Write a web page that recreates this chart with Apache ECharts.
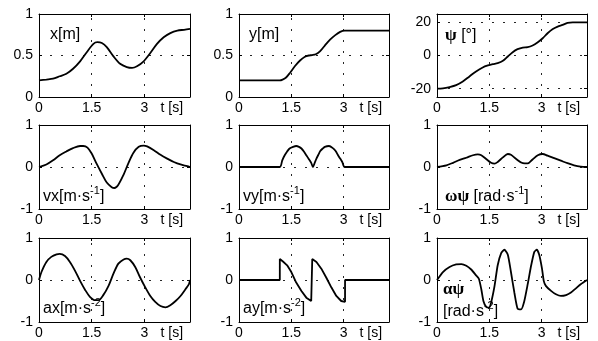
<!DOCTYPE html>
<html>
<head>
<meta charset="utf-8">
<script src="https://cdn.jsdelivr.net/npm/echarts@6.0.0/dist/echarts.min.js"></script>
<style>
  html, body { margin: 0; padding: 0; background: #fff; }
  #chart { width: 598px; height: 341px; }
</style>
</head>
<body>
<div id="chart"></div>
<script>
// Time axis
const T_MAX = 4.3;
const tTicks = [0, 1.5, 3];
const tTitlePos = 3.78;
const tTitle = 't [s]';

// Value-axis tick sets
const posTicks = [0, 0.5, 1];
const psiTicks = [-20, 0, 20];
const unitTicks = [-1, 0, 1];

// x [m]
const tX = [0, 0.21, 0.4, 0.59, 0.78, 0.97, 1.17, 1.36, 1.55, 1.66, 1.79, 1.93, 2.12, 2.31, 2.5, 2.65, 2.79, 2.98, 3.17, 3.36, 3.55, 3.74, 3.94, 4.13, 4.3];
const xPos = [0.2, 0.21, 0.22, 0.25, 0.28, 0.34, 0.43, 0.54, 0.64, 0.66, 0.65, 0.6, 0.49, 0.4, 0.36, 0.35, 0.37, 0.43, 0.53, 0.64, 0.72, 0.77, 0.8, 0.81, 0.82];

// y [m]
const tY = [0, 0.6, 1.0, 1.17, 1.25, 1.35, 1.46, 1.6, 1.75, 1.89, 2.0, 2.1, 2.2, 2.32, 2.46, 2.61, 2.76, 2.9, 3.03, 3.5, 4.3];
const yPos = [0.2, 0.2, 0.2, 0.2, 0.21, 0.235, 0.29, 0.37, 0.44, 0.485, 0.5, 0.505, 0.515, 0.55, 0.62, 0.69, 0.745, 0.785, 0.8, 0.8, 0.8];

// psi [deg]
const tPsi = [0, 0.17, 0.36, 0.55, 0.74, 0.93, 1.12, 1.31, 1.46, 1.6, 1.74, 1.89, 2.03, 2.17, 2.31, 2.46, 2.6, 2.74, 2.89, 3.03, 3.17, 3.31, 3.46, 3.6, 3.74, 3.89, 4.08, 4.3];
const psi = [-20, -19.8, -19, -17.8, -15.6, -12.6, -9.6, -7.2, -6, -5.2, -4.6, -3.2, -0.6, 2, 3.8, 4.8, 5, 6, 8, 10.4, 13.4, 15.8, 17.4, 18.4, 19.6, 20, 20, 20];

// vx [m/s]
const tVx = [0, 0.21, 0.4, 0.59, 0.78, 0.97, 1.17, 1.26, 1.38, 1.5, 1.64, 1.79, 1.93, 2.07, 2.15, 2.26, 2.41, 2.55, 2.69, 2.84, 2.98, 3.08, 3.27, 3.46, 3.65, 3.84, 4.03, 4.22, 4.3];
const vx = [0, 0.06, 0.16, 0.28, 0.37, 0.45, 0.5, 0.5, 0.46, 0.32, 0.08, -0.16, -0.37, -0.48, -0.5, -0.42, -0.18, 0.1, 0.34, 0.48, 0.51, 0.49, 0.4, 0.29, 0.2, 0.12, 0.06, 0.02, 0];

// vy [m/s]
const tVy = [0, 1.17, 1.24, 1.31, 1.38, 1.45, 1.55, 1.64, 1.72, 1.79, 1.86, 1.93, 2.0, 2.07, 2.12, 2.17, 2.22, 2.28, 2.33, 2.4, 2.46, 2.58, 2.69, 2.77, 2.84, 2.9, 2.96, 3.03, 4.3];
const vy = [0, 0, 0.16, 0.28, 0.37, 0.44, 0.48, 0.5, 0.48, 0.44, 0.37, 0.28, 0.19, 0.1, 0, 0.1, 0.2, 0.3, 0.38, 0.44, 0.48, 0.5, 0.45, 0.38, 0.28, 0.2, 0.12, 0, 0];

// omega psi [rad/s]
const tW = [0, 0.27, 0.46, 0.65, 0.84, 1.03, 1.17, 1.27, 1.41, 1.55, 1.65, 1.74, 1.89, 2.03, 2.12, 2.27, 2.46, 2.6, 2.74, 2.89, 3.03, 3.17, 3.36, 3.55, 3.74, 3.93, 4.12, 4.3];
const omegaPsi = [0, 0.04, 0.1, 0.17, 0.22, 0.28, 0.3, 0.28, 0.19, 0.1, 0.08, 0.12, 0.23, 0.31, 0.29, 0.19, 0.09, 0.085, 0.18, 0.28, 0.31, 0.27, 0.21, 0.15, 0.09, 0.04, 0.01, 0];

// ax [m/s^2]
const tAx = [0, 0.07, 0.21, 0.35, 0.5, 0.59, 0.74, 0.88, 1.02, 1.17, 1.31, 1.45, 1.6, 1.69, 1.83, 1.98, 2.12, 2.26, 2.41, 2.5, 2.6, 2.74, 2.88, 3.03, 3.17, 3.31, 3.46, 3.6, 3.74, 3.89, 4.03, 4.17, 4.27, 4.3];
const ax = [0, 0.19, 0.43, 0.55, 0.61, 0.62, 0.57, 0.43, 0.23, -0.02, -0.23, -0.4, -0.48, -0.48, -0.36, -0.14, 0.15, 0.39, 0.49, 0.51, 0.47, 0.31, 0.06, -0.18, -0.38, -0.52, -0.62, -0.65, -0.6, -0.5, -0.38, -0.22, -0.1, 0];

// ay [m/s^2]
const tAy = [0, 1.17, 1.17, 1.26, 1.38, 1.5, 1.64, 1.79, 1.93, 2.07, 2.1, 2.1, 2.22, 2.36, 2.5, 2.65, 2.79, 2.93, 3.04, 3.04, 4.3];
const ay = [0, 0, 0.5, 0.44, 0.35, 0.19, -0.06, -0.26, -0.42, -0.5, -0.5, 0.5, 0.43, 0.27, 0.06, -0.18, -0.38, -0.5, -0.52, 0, 0];

// alpha psi [rad/s^2]
const tAlpha = [0, 0.17, 0.36, 0.55, 0.7, 0.84, 0.98, 1.12, 1.2, 1.27, 1.33, 1.41, 1.49, 1.55, 1.65, 1.74, 1.84, 1.93, 2.03, 2.12, 2.22, 2.31, 2.41, 2.5, 2.6, 2.7, 2.79, 2.86, 2.93, 3.01, 3.06, 3.12, 3.27, 3.41, 3.55, 3.7, 3.84, 3.98, 4.12, 4.3];
const alphaPsi = [0, 0.19, 0.31, 0.37, 0.38, 0.34, 0.25, 0.11, 0.03, -0.22, -0.5, -0.64, -0.66, -0.54, -0.14, 0.35, 0.64, 0.72, 0.6, 0.19, -0.31, -0.68, -0.7, -0.51, -0.1, 0.35, 0.67, 0.72, 0.6, 0.27, -0.02, -0.14, -0.26, -0.34, -0.38, -0.36, -0.3, -0.2, -0.1, 0];

// Panel layout (pixels)
const colBoxes = [{ left: 39, width: 151 }, { left: 239, width: 150 }, { left: 437, width: 150 }];
const rowBoxes = [{ top: 14, height: 83 }, { top: 125, height: 84 }, { top: 238, height: 84 }];

const FONT = '"Liberation Sans", Arial, Helvetica, sans-serif';
const GREEK = '"Liberation Serif", "DejaVu Serif", serif';

const panels = [
  { t: tX, v: xPos, ticks: posTicks, min: 0, max: 1, smooth: 0.3 },
  { t: tY, v: yPos, ticks: posTicks, min: 0, max: 1, smooth: 0.3 },
  { t: tPsi, v: psi, ticks: psiTicks, min: -25, max: 25, smooth: 0.3 },
  { t: tVx, v: vx, ticks: unitTicks, min: -1, max: 1, smooth: 0.3 },
  { t: tVy, v: vy, ticks: unitTicks, min: -1, max: 1, smooth: 0.25 },
  { t: tW, v: omegaPsi, ticks: unitTicks, min: -1, max: 1, smooth: 0.3 },
  { t: tAx, v: ax, ticks: unitTicks, min: -1, max: 1, smooth: 0.3 },
  { t: tAy, v: ay, ticks: unitTicks, min: -1, max: 1, smooth: false },
  { t: tAlpha, v: alphaPsi, ticks: unitTicks, min: -1, max: 1, smooth: 0.2 }
];

const grids = [], xAxes = [], yAxes = [], series = [];
const black = '#000';

panels.forEach((p, i) => {
  const c = colBoxes[i % 3], r = rowBoxes[Math.floor(i / 3)];
  grids.push({ left: c.left, top: r.top, width: c.width, height: r.height, containLabel: false });

  const tickStyle = { show: true, inside: true, length: 3, lineStyle: { color: black, width: 1 } };
  const lineStyle = { show: true, onZero: false, lineStyle: { color: black, width: 1 } };

  xAxes.push({
    type: 'value', gridIndex: i, min: 0, max: T_MAX, position: 'bottom',
    axisLine: lineStyle,
    axisTick: Object.assign({ customValues: tTicks }, tickStyle),
    axisLabel: {
      customValues: tTicks.concat([tTitlePos]),
      formatter: v => (v === tTitlePos ? tTitle : String(v)),
      color: black, fontSize: 14, fontFamily: FONT, margin: 4
    },
    splitLine: { show: false }
  });
  xAxes.push({
    type: 'value', gridIndex: i, min: 0, max: T_MAX, position: 'top',
    axisLine: lineStyle,
    axisTick: Object.assign({ customValues: tTicks }, tickStyle),
    axisLabel: { show: false },
    splitLine: { show: false }
  });
  yAxes.push({
    type: 'value', gridIndex: i, min: p.min, max: p.max, position: 'left',
    axisLine: lineStyle,
    axisTick: Object.assign({ customValues: p.ticks }, tickStyle),
    axisLabel: {
      customValues: p.ticks,
      formatter: v => String(v),
      color: black, fontSize: 14, fontFamily: FONT, margin: 6
    },
    splitLine: { show: false }
  });
  yAxes.push({
    type: 'value', gridIndex: i, min: p.min, max: p.max, position: 'right',
    axisLine: lineStyle,
    axisTick: Object.assign({ customValues: p.ticks }, tickStyle),
    axisLabel: { show: false },
    splitLine: { show: false }
  });

  // dotted grid at the inner ticks
  const gridLines = tTicks.filter(v => v > 0 && v < T_MAX).map(v => ({ xAxis: v }))
    .concat(p.ticks.filter(v => v > p.min && v < p.max).map(v => ({ yAxis: v })));
  series.push({
    type: 'line', xAxisIndex: 2 * i, yAxisIndex: 2 * i, data: [], z: 1, silent: true,
    markLine: {
      silent: true, symbol: ['none', 'none'], label: { show: false },
      emphasis: { disabled: true },
      lineStyle: { color: black, width: 1, type: [2, 9], opacity: 0.85 },
      data: gridLines, animation: false
    }
  });

  series.push({
    type: 'line', xAxisIndex: 2 * i, yAxisIndex: 2 * i, z: 3,
    data: p.t.map((t, k) => [t, p.v[k]]),
    showSymbol: false, symbol: 'none', smooth: p.smooth,
    lineStyle: { color: black, width: 1.8 },
    emphasis: { disabled: true }
  });
});

// Panel captions (superscripts raised via top-aligned small tokens in a tall line)
const rich = {
  n: { fontSize: 16, fontFamily: FONT, fontWeight: 'normal', color: black, lineHeight: 24 },
  sup: { fontSize: 11, fontFamily: FONT, fontWeight: 'normal', color: black, lineHeight: 12, verticalAlign: 'top' },
  g: { fontSize: 17, fontFamily: GREEK, fontWeight: 'bold', color: black, lineHeight: 20 }
};
const caption = (text, left, top) => ({
  text, left, top, padding: 0,
  textStyle: { rich, fontSize: 16, fontWeight: 'normal', fontFamily: FONT, color: black }
});
const titles = [
  caption('{n|x[m]}', 50, 23),
  caption('{n|y[m]}', 249, 23),
  caption('{g|ψ}{n| [°]}', 445, 24),
  caption('{n|vx[m·s}{sup|-1}{n|]}', 43, 185),
  caption('{n|vy[m·s}{sup|-1}{n|]}', 243, 185),
  caption('{g|ωψ}{n| [rad·s}{sup|-1}{n|]}', 445, 185),
  caption('{n|ax[m·s}{sup|-2}{n|]}', 43, 297),
  caption('{n|ay[m·s}{sup|-2}{n|]}', 243, 297),
  caption('{g|αψ}\n{n|[rad·s}{sup|-2}{n|]}', 443, 280)
];

const chart = echarts.init(document.getElementById('chart'), null, { renderer: 'canvas' });
chart.setOption({
  animation: false,
  backgroundColor: '#fff',
  title: titles,
  grid: grids,
  xAxis: xAxes,
  yAxis: yAxes,
  series: series
});
</script>
</body>
</html>
